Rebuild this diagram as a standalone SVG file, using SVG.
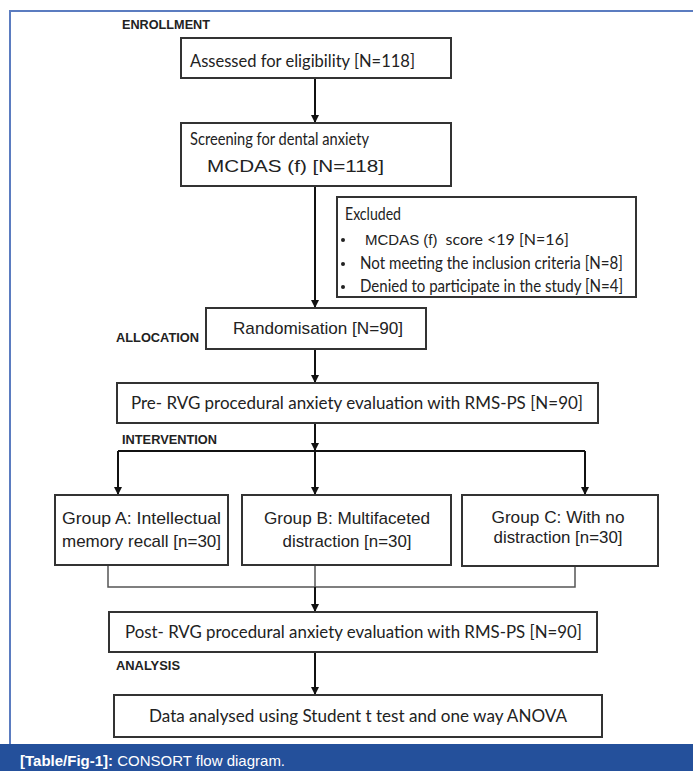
<svg xmlns="http://www.w3.org/2000/svg" width="693" height="771" viewBox="0 0 693 771">
<defs>
<marker id="ah" markerWidth="8" markerHeight="8" refX="7" refY="4" orient="auto" markerUnits="userSpaceOnUse">
<path d="M0,0 L8,4 L0,8 Z" fill="#111"/>
</marker>
<style>
.box{fill:#fff;stroke:#333;stroke-width:2}
.cal{font-family:Lato,"Open Sans","Noto Sans",sans-serif;font-size:18px;fill:#222}
.ari{font-family:"Liberation Sans",Arial,sans-serif;font-size:17px;fill:#222}
.lab{font-family:"Liberation Sans",Arial,sans-serif;font-size:12px;font-weight:bold;fill:#222}
.ln{fill:none;stroke:#111;stroke-width:2}
.thin{fill:none;stroke:#555;stroke-width:1.5}
</style>
</defs>
<rect x="0" y="0" width="693" height="771" fill="#fff"/>
<path d="M693,11 H10 V744" fill="none" stroke="#5b7cc0" stroke-width="2"/>
<rect x="0" y="744" width="693" height="27" fill="#24509b"/>
<text x="20" y="766" font-family="Liberation Sans,Arial,sans-serif" font-size="15" fill="#fff"><tspan font-weight="bold">[Table/Fig-1]:</tspan> CONSORT flow diagram.</text>

<g id="labels">
<text class="lab" x="122" y="29" textLength="88" lengthAdjust="spacingAndGlyphs">ENROLLMENT</text>
<text class="lab" x="116" y="342" textLength="83" lengthAdjust="spacingAndGlyphs">ALLOCATION</text>
<text class="lab" x="122" y="444" textLength="95" lengthAdjust="spacingAndGlyphs">INTERVENTION</text>
<text class="lab" x="116" y="670" textLength="64" lengthAdjust="spacingAndGlyphs">ANALYSIS</text>
</g>

<g id="connectors">
<line class="ln" x1="315" y1="78" x2="315" y2="122" marker-end="url(#ah)"/>
<line class="ln" x1="315" y1="186" x2="315" y2="307" marker-end="url(#ah)"/>
<line class="ln" x1="315" y1="349" x2="315" y2="382" marker-end="url(#ah)"/>
<line class="ln" x1="315" y1="423" x2="315" y2="450" marker-end="url(#ah)"/>
<line class="ln" x1="118" y1="451" x2="585" y2="451"/>
<line class="ln" x1="118" y1="451" x2="118" y2="494" marker-end="url(#ah)"/>
<line class="ln" x1="315" y1="451" x2="315" y2="494" marker-end="url(#ah)"/>
<line class="ln" x1="585" y1="451" x2="585" y2="494" marker-end="url(#ah)"/>
<path class="thin" d="M108,565 V587 H575 V566"/>
<line class="thin" x1="315" y1="565" x2="315" y2="587"/>
<line class="ln" x1="315" y1="587" x2="315" y2="611" marker-end="url(#ah)"/>
<line class="ln" x1="315" y1="652" x2="315" y2="694" marker-end="url(#ah)"/>
</g>

<g id="n-assessed">
<rect class="box" x="181" y="38" width="270" height="40"/>
<text class="cal" x="190" y="67" textLength="225" lengthAdjust="spacingAndGlyphs">Assessed for eligibility [N=118]</text>
</g>

<g id="n-screening">
<rect class="box" x="181" y="123" width="270" height="63"/>
<text class="cal" x="190" y="145" textLength="179" lengthAdjust="spacingAndGlyphs">Screening for dental anxiety</text>
<text class="ari" x="207" y="172" textLength="177" lengthAdjust="spacingAndGlyphs">MCDAS (f)  [N=118]</text>
</g>

<g id="n-excluded">
<rect class="box" x="337" y="197" width="299" height="100"/>
<text class="cal" x="345" y="220" font-size="16" textLength="56" lengthAdjust="spacingAndGlyphs">Excluded</text>
<circle cx="343" cy="240" r="2" fill="#222"/>
<circle cx="343" cy="264" r="2" fill="#222"/>
<circle cx="343" cy="287" r="2" fill="#222"/>
<text x="365" y="245" font-size="16" fill="#222"><tspan font-family="Liberation Sans,Arial,sans-serif" font-size="15">MCDAS (f)</tspan><tspan font-family="Lato,Open Sans,sans-serif" dx="8">score &lt;19 [N=16]</tspan></text>
<text class="cal" x="360" y="269" font-size="16" textLength="263" lengthAdjust="spacingAndGlyphs">Not meeting the inclusion criteria [N=8]</text>
<text class="cal" x="360" y="292" font-size="16" textLength="263" lengthAdjust="spacingAndGlyphs">Denied to participate in the study [N=4]</text>
</g>

<g id="n-random">
<rect class="box" x="206" y="308" width="220" height="41"/>
<text class="ari" x="233" y="334" textLength="170" lengthAdjust="spacingAndGlyphs">Randomisation [N=90]</text>
</g>

<g id="n-pre">
<rect class="box" x="117" y="383" width="481" height="40"/>
<text class="cal" x="131" y="409" textLength="452" lengthAdjust="spacingAndGlyphs">Pre- RVG procedural anxiety evaluation with RMS-PS [N=90]</text>
</g>

<g id="n-groupA">
<rect class="box" x="55" y="495" width="173" height="70"/>
<text class="ari" x="141.5" y="524" text-anchor="middle" textLength="159" lengthAdjust="spacingAndGlyphs">Group A: Intellectual</text>
<text class="ari" x="141.5" y="547" text-anchor="middle" textLength="159" lengthAdjust="spacingAndGlyphs">memory recall [n=30]</text>
</g>

<g id="n-groupB">
<rect class="box" x="242" y="495" width="209" height="70"/>
<text class="ari" x="347" y="524" text-anchor="middle" textLength="166" lengthAdjust="spacingAndGlyphs">Group B: Multifaceted</text>
<text class="ari" x="347" y="547" text-anchor="middle" textLength="129" lengthAdjust="spacingAndGlyphs">distraction [n=30]</text>
</g>

<g id="n-groupC">
<rect class="box" x="462" y="495" width="196" height="71"/>
<text class="ari" x="558" y="523" text-anchor="middle" textLength="133" lengthAdjust="spacingAndGlyphs">Group C: With no</text>
<text class="ari" x="558" y="543" text-anchor="middle" textLength="129" lengthAdjust="spacingAndGlyphs">distraction [n=30]</text>
</g>

<g id="n-post">
<rect class="box" x="109" y="612" width="488" height="40"/>
<text class="cal" x="125" y="638" textLength="457" lengthAdjust="spacingAndGlyphs">Post- RVG procedural anxiety evaluation with RMS-PS [N=90]</text>
</g>

<g id="n-data">
<rect class="box" x="114" y="695" width="488" height="42"/>
<text class="cal" x="149" y="722" textLength="418" lengthAdjust="spacingAndGlyphs">Data analysed using Student t test and one way ANOVA</text>
</g>
</svg>
